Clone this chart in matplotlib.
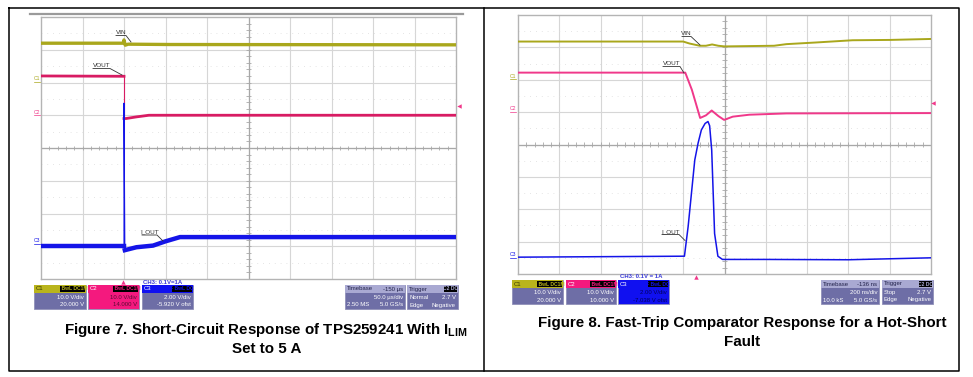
import matplotlib.pyplot as plt
from matplotlib.patches import Rectangle
import numpy as np

plt.rcParams['font.family'] = ['Liberation Sans', 'DejaVu Sans']
plt.rcParams['mathtext.fontset'] = 'custom'
plt.rcParams['mathtext.rm'] = 'Liberation Sans:bold'
plt.rcParams['mathtext.bf'] = 'Liberation Sans:bold'

# ---- data read from the two scope shots (x in divisions 0..10, y in divisions 0..8) ----
# Figure 7 (short circuit, 50 us/div)
vin7_x = [0, 1.98, 2.0, 2.03, 2.1, 3.1, 10]
vin7_y = [7.20, 7.20, 7.30, 7.14, 7.17, 7.16, 7.15]
vout7_x = [0, 1.98, 2.0, 2.0, 2.05, 2.3, 2.6, 10]
vout7_y = [6.20, 6.19, 6.19, 4.90, 4.90, 4.95, 5.00, 5.00]
iout7_x = [0, 1.99, 2.0, 2.0, 2.02, 2.3, 2.7, 3.0, 3.35, 10]
iout7_y = [1.02, 1.02, 1.02, 5.37, 0.88, 0.97, 1.02, 1.15, 1.28, 1.28]

# Figure 8 (hot short, 200 ns/div)
vin8_x = [0, 4.0, 4.15, 4.4, 4.55, 4.7, 4.85, 5.0, 6.2, 6.5, 7.2, 8.1, 9.0, 10]
vin8_y = [7.18, 7.18, 7.12, 7.05, 7.05, 7.09, 7.05, 7.03, 7.05, 7.10, 7.15, 7.22, 7.23, 7.26]
vout8_x = [0, 4.05, 4.21, 4.41, 4.55, 4.69, 4.85, 4.99, 5.2, 5.6, 6.5, 10]
vout8_y = [6.22, 6.22, 5.69, 4.82, 4.90, 5.05, 4.88, 4.76, 4.86, 4.92, 4.96, 4.97]
iout8_x = [0, 4.03, 4.12, 4.28, 4.36, 4.44, 4.53, 4.6, 4.64, 4.69, 4.76, 4.84, 4.95, 6.0, 8.0, 10]
iout8_y = [0.52, 0.55, 1.47, 3.52, 4.04, 4.45, 4.65, 4.71, 4.58, 3.83, 1.25, 0.55, 0.45, 0.45, 0.44, 0.50]

YEL = '#a9a71c'
PINK7 = '#d81b63'
PINK8 = '#f0388a'
BLUE = '#1414e8'
PURPLE = '#6e6ea6'
LAV = '#a9a9d2'

fig = plt.figure(figsize=(9.73, 3.77), dpi=100)
W, H = 973, 377


def scope_axes(x0, y0, x1, y1):
    ax = fig.add_axes([x0 / W, 1 - y1 / H, (x1 - x0) / W, (y1 - y0) / H])
    ax.set_xlim(0, 10)
    ax.set_ylim(0, 8)
    ax.set_xticks([])
    ax.set_yticks([])
    for k in range(1, 10):
        ax.axvline(k, color='#d6d6d6', lw=0.8, zorder=1)
    for k in range(1, 8):
        ax.axhline(k, color='#d6d6d6', lw=0.8, zorder=1)
    for k in np.arange(0.5, 8, 1.0):
        ax.axhline(k, color='#dcdcdc', lw=0.6, ls=(0, (1, 6)), zorder=1)
    ax.axvline(5, color='#a8a8a8', lw=0.9, zorder=1)
    ax.axhline(4, color='#a8a8a8', lw=0.9, zorder=1)
    tx = np.arange(0, 10.01, 0.2)
    ax.vlines(tx, 3.93, 4.07, color='#a8a8a8', lw=0.6, zorder=1)
    ty = np.arange(0, 8.01, 0.2)
    ax.hlines(ty, 4.94, 5.06, color='#a8a8a8', lw=0.6, zorder=1)
    for s in ax.spines.values():
        s.set_color('#b4b4b4')
        s.set_linewidth(1.0)
    return ax


# overlay in pixel units for frame, captions and read-out boxes
ov = fig.add_axes([0, 0, 1, 1], zorder=10)
ov.set_xlim(0, W)
ov.set_ylim(H, 0)
ov.axis('off')
ov.patch.set_alpha(0)

# table frame
ov.plot([9, 959, 959, 9, 9], [8, 8, 371, 371, 8], color='black', lw=1.1)
ov.plot([484, 484], [8, 371], color='black', lw=1.1)
ov.plot([30, 463], [13.5, 13.5], color='#9a9a9a', lw=1.6)

# ---- Figure 7 scope ----
a7 = scope_axes(41, 17, 456, 279)
a7.plot(vin7_x, vin7_y, color=YEL, lw=2.4, zorder=3)
# thick flat parts, thin vertical step (as on the scope)
a7.plot(vout7_x[:3], vout7_y[:3], color=PINK7, lw=2.0, zorder=3)
a7.plot(vout7_x[2:4], vout7_y[2:4], color=PINK7, lw=0.8, zorder=3)
a7.plot(vout7_x[3:], vout7_y[3:], color=PINK7, lw=2.0, zorder=3)
a7.plot(iout7_x[:3], iout7_y[:3], color=BLUE, lw=3.2, zorder=4)
a7.plot(iout7_x[2:5], iout7_y[2:5], color=BLUE, lw=0.8, zorder=4)
a7.plot(iout7_x[4:], iout7_y[4:], color=BLUE, lw=3.2, zorder=4)

# ---- Figure 8 scope ----
a8 = scope_axes(518, 15, 931, 274)
a8.plot(vin8_x, vin8_y, color=YEL, lw=1.4, zorder=3)
a8.plot(vout8_x, vout8_y, color=PINK8, lw=1.4, zorder=3)
a8.plot(iout8_x, iout8_y, color=BLUE, lw=1.1, zorder=4)


def trace_label(txt, x0, x1, yt, tip):
    ov.text((x0 + x1) / 2, yt, txt, fontsize=4.6, color='#333333', ha='center', va='center')
    ov.plot([x0, x1, tip[0]], [yt + 3, yt + 3, tip[1]], color='#333333', lw=0.6)


trace_label('VIN', 116, 126, 32.5, (131, 42))
trace_label('VOUT', 93, 110, 65.5, (122, 75))
trace_label('I_OUT', 142, 157, 232, (163, 241))
trace_label('VIN', 682, 691, 33.5, (700, 45))
trace_label('VOUT', 663, 680, 63.5, (684, 73))
trace_label('I_OUT', 662, 679, 231.5, (685, 240.5))


def ch_marker(txt, x, y, c):
    ov.text(x, y, txt, fontsize=3.6, color=c, ha='center', va='center')
    ov.plot([x - 3, x + 3], [y + 2.5, y + 2.5], color=c, lw=0.5)


for (x, ys) in [(37, (79, 112, 241)), (513, (76, 109, 255))]:
    ch_marker('C1', x, ys[0], YEL)
    ch_marker('C2', x, ys[1], PINK8)
    ch_marker('C3', x, ys[2], BLUE)

ov.plot([459], [106], marker='<', ms=3.2, color=PINK8, mec='none')
ov.plot([933], [103], marker='<', ms=3.2, color=PINK8, mec='none')
ov.plot([123], [282], marker='^', ms=3.2, color=PINK8, mec='none')
ov.plot([696], [277], marker='^', ms=3.2, color=PINK8, mec='none')


def box(x0, y0, x1, y1, head_bg, body_bg, head_l, head_r, tag, lines, head_c, body_c):
    ov.add_patch(Rectangle((x0, y0), x1 - x0, y1 - y0, facecolor=body_bg,
                           edgecolor='#9090b8', lw=0.6))
    ov.add_patch(Rectangle((x0, y0), x1 - x0, 8, facecolor=head_bg, edgecolor='none'))
    yh = y0 + 4
    ov.text(x0 + 2, yh, head_l, fontsize=4.3, color=head_c, va='center', ha='left')
    if head_r:
        ov.text(x1 - 2, yh, head_r, fontsize=4.3, color=head_c, va='center', ha='right')
    if tag:
        tw = 4.0 * len(tag) * 0.62
        ov.add_patch(Rectangle((x1 - 1.5 - tw, y0 + 1), tw, 6, facecolor='black', edgecolor='none'))
        ov.text(x1 - 1.5 - tw / 2, yh, tag, fontsize=3.6, color=head_bg, va='center',
                ha='center', fontweight='bold')
    for i, (l, r) in enumerate(lines):
        yy = y0 + 12.5 + 7.5 * i
        if l:
            ov.text(x0 + 2, yy, l, fontsize=4.3, color=body_c, va='center', ha='left')
        if r:
            ov.text(x1 - 2, yy, r, fontsize=4.3, color=body_c, va='center', ha='right')


PINKBOX = '#f4197e'
YELBOX = '#b9b41c'
BLUEBOX = '#1010f0'

# Figure 7 read-outs
box(34, 285, 86, 309, YELBOX, PURPLE, 'C1', None, 'F BwL DC1M',
    [(None, '10.0 V/div'), (None, '20.000 V')], '#3a3a00', 'white')
box(88, 285, 139, 309, PINKBOX, PINKBOX, 'C2', None, 'F BwL DC1M',
    [(None, '10.0 V/div'), (None, '14.000 V')], 'white', '#5a0a34')
box(142, 285, 193, 309, BLUEBOX, PURPLE, 'C3', None, 'F BwL DC',
    [(None, '2.00 V/div'), (None, '-5.920 V ofst')], 'white', 'white')
box(345, 285, 405, 309, LAV, PURPLE, 'Timebase', '-150 µs', None,
    [(None, '50.0 µs/div'), ('2.50 MS', '5.0 GS/s')], '#22224a', 'white')
box(407, 285, 458, 309, LAV, PURPLE, 'Trigger', None, 'C2 DC',
    [('Normal', '2.7 V'), ('Edge', 'Negative')], '#22224a', 'white')
ov.text(143, 282, 'CH3: 0.1V=1A', fontsize=4.3, color='#3b3bd8', va='center', ha='left',
        fontweight='bold')

# Figure 8 read-outs
box(512, 280, 563, 304, YELBOX, PURPLE, 'C1', None, 'F BwL DC1M',
    [(None, '10.0 V/div'), (None, '20.000 V')], '#3a3a00', 'white')
box(566, 280, 616, 304, PINKBOX, PURPLE, 'C2', None, 'F BwL DC1M',
    [(None, '10.0 V/div'), (None, '10.000 V')], 'white', 'white')
box(618, 280, 669, 304, BLUEBOX, BLUEBOX, 'C3', None, 'F BwL DC',
    [(None, '2.00 V/div'), (None, '-7.038 V ofst')], 'white', '#00005a')
box(821, 280, 879, 304, LAV, PURPLE, 'Timebase', '-136 ns', None,
    [(None, '200 ns/div'), ('10.0 kS', '5.0 GS/s')], '#22224a', 'white')
box(882, 280, 933, 304, LAV, PURPLE, 'Trigger', None, 'C2 DC',
    [('Stop', '2.7 V'), ('Edge', 'Negative')], '#22224a', 'white')
ov.text(620, 277, 'CH3: 0.1V = 1A', fontsize=4.3, color='#3b3bd8', va='center', ha='left',
        fontweight='bold')

# captions
cap = dict(fontsize=10.9, fontweight='bold', color='black', ha='center', va='center')
ov.text(266, 330, r'Figure 7. Short-Circuit Response of TPS259241 With I$_{\mathregular{LIM}}$', **cap)
ov.text(267, 349, 'Set to 5 A', **cap)
ov.text(742, 323, 'Figure 8. Fast-Trip Comparator Response for a Hot-Short', **cap)
ov.text(742, 342, 'Fault', **cap)

fig.savefig('out.png', dpi=100)
